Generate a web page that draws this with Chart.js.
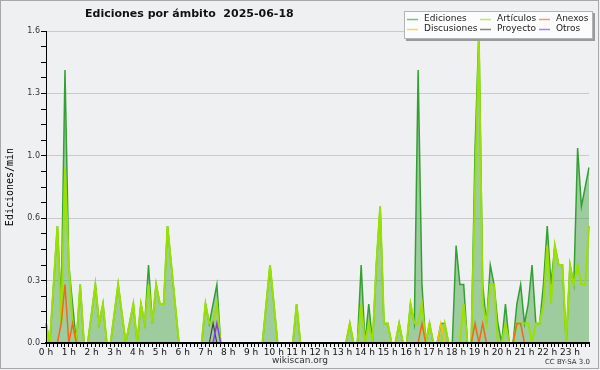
<!DOCTYPE html>
<html lang="es">
<head>
<meta charset="UTF-8">
<title>Ediciones por ámbito</title>
<script src="https://cdn.jsdelivr.net/npm/chart.js"></script>
<style>
  body { margin: 0; background: #fff; }
</style>
</head>
<body>
<canvas id="editsChart" width="600" height="370"></canvas>
<script>
// 10-minute slots, values are edits per minute
const hourLabels = ['0 h', '1 h', '2 h', '3 h', '4 h', '5 h', '6 h', '7 h', '8 h', '9 h', '10 h', '11 h',
  '12 h', '13 h', '14 h', '15 h', '16 h', '17 h', '18 h', '19 h', '20 h', '21 h', '22 h', '23 h'];
const slotsPerHour = 6;

const ediciones = [
  0.1, 0, 0.3, 0.6, 0.2, 1.4, 0.4, 0.2, 0, 0.3, 0, 0,
  0.15, 0.3, 0.1, 0.2, 0, 0, 0.15, 0.3, 0.15, 0, 0.1, 0.2,
  0, 0.2, 0.1, 0.4, 0.1, 0.3, 0.2, 0.2, 0.6, 0.4, 0.2, 0,
  0, 0, 0, 0, 0, 0, 0.2, 0.1, 0.2, 0.3, 0, 0,
  0, 0, 0, 0, 0, 0, 0, 0, 0, 0, 0.2, 0.4,
  0.2, 0, 0, 0, 0, 0, 0.2, 0, 0, 0, 0, 0,
  0, 0, 0, 0, 0, 0, 0, 0, 0.1, 0, 0, 0.4,
  0, 0.2, 0, 0.4, 0.7, 0.1, 0.1, 0, 0, 0.1, 0, 0,
  0.2, 0.1, 1.4, 0.3, 0, 0.1, 0, 0, 0.1, 0.1, 0, 0,
  0.5, 0.3, 0.3, 0, 0, 1.0, 1.6, 0.3, 0.1, 0.4, 0.3, 0.1,
  0, 0.2, 0, 0, 0.2, 0.3, 0.1, 0.2, 0.4, 0.1, 0.1, 0.3,
  0.6, 0.3, 0.5, 0.4, 0.4, 0, 0.4, 0.3, 1.0, 0.7, 0.8, 0.9
];
const articulos = [
  0.1, 0, 0.3, 0.6, 0.1, 0.9, 0.4, 0.1, 0, 0.3, 0, 0,
  0.15, 0.3, 0.1, 0.2, 0, 0, 0.15, 0.3, 0.15, 0, 0.1, 0.2,
  0, 0.2, 0.1, 0.3, 0.1, 0.3, 0.2, 0.2, 0.6, 0.4, 0.2, 0,
  0, 0, 0, 0, 0, 0, 0.2, 0.1, 0.1, 0.2, 0, 0,
  0, 0, 0, 0, 0, 0, 0, 0, 0, 0, 0.2, 0.4,
  0.2, 0, 0, 0, 0, 0, 0.2, 0, 0, 0, 0, 0,
  0, 0, 0, 0, 0, 0, 0, 0, 0.1, 0, 0, 0.2,
  0, 0.1, 0, 0.4, 0.7, 0.1, 0.1, 0, 0, 0.1, 0, 0,
  0.2, 0.1, 0.1, 0.2, 0, 0.1, 0, 0, 0, 0.1, 0, 0,
  0, 0, 0.2, 0, 0, 0.8, 1.55, 0.2, 0.1, 0.3, 0.3, 0,
  0, 0.1, 0, 0, 0.1, 0.1, 0.1, 0.1, 0, 0.1, 0.1, 0.2,
  0.5, 0.2, 0.5, 0.4, 0.4, 0, 0.4, 0.3, 0.4, 0.3, 0.3, 0.6
];
const anexos = [
  0, 0, 0, 0, 0.1, 0.3, 0, 0.1, 0, 0, 0, 0,
  0, 0, 0, 0, 0, 0, 0, 0, 0, 0, 0, 0,
  0, 0, 0, 0, 0, 0, 0, 0, 0, 0, 0, 0,
  0, 0, 0, 0, 0, 0, 0, 0, 0, 0, 0, 0,
  0, 0, 0, 0, 0, 0, 0, 0, 0, 0, 0, 0,
  0, 0, 0, 0, 0, 0, 0, 0, 0, 0, 0, 0,
  0, 0, 0, 0, 0, 0, 0, 0, 0, 0, 0, 0,
  0, 0, 0, 0, 0, 0, 0, 0, 0, 0, 0, 0,
  0, 0, 0, 0.1, 0, 0, 0, 0, 0, 0, 0, 0,
  0, 0, 0, 0, 0, 0.1, 0, 0.1, 0, 0, 0, 0,
  0, 0, 0, 0, 0.1, 0.1, 0, 0, 0, 0, 0, 0,
  0, 0, 0, 0, 0, 0, 0, 0, 0, 0, 0, 0
];
const discusiones = [
  0, 0, 0, 0, 0, 0, 0, 0, 0, 0, 0, 0,
  0, 0, 0, 0, 0, 0, 0, 0, 0, 0, 0, 0,
  0, 0, 0, 0, 0, 0, 0, 0, 0, 0, 0, 0,
  0, 0, 0, 0, 0, 0, 0, 0, 0, 0, 0, 0,
  0, 0, 0, 0, 0, 0, 0, 0, 0, 0, 0, 0,
  0, 0, 0, 0, 0, 0, 0, 0, 0, 0, 0, 0,
  0, 0, 0, 0, 0, 0, 0, 0, 0, 0, 0, 0,
  0, 0, 0, 0, 0, 0, 0, 0, 0, 0, 0, 0,
  0, 0, 0, 0, 0, 0, 0, 0, 0.1, 0, 0, 0,
  0, 0, 0, 0, 0, 0, 0, 0, 0, 0, 0, 0,
  0, 0, 0, 0, 0, 0, 0, 0, 0, 0, 0, 0,
  0, 0, 0, 0, 0, 0, 0, 0, 0, 0, 0, 0
];
const proyecto = [
  0, 0, 0, 0, 0, 0, 0, 0, 0, 0, 0, 0,
  0, 0, 0, 0, 0, 0, 0, 0, 0, 0, 0, 0,
  0, 0, 0, 0, 0, 0, 0, 0, 0, 0, 0, 0,
  0, 0, 0, 0, 0, 0, 0, 0, 0.1, 0, 0, 0,
  0, 0, 0, 0, 0, 0, 0, 0, 0, 0, 0, 0,
  0, 0, 0, 0, 0, 0, 0, 0, 0, 0, 0, 0,
  0, 0, 0, 0, 0, 0, 0, 0, 0, 0, 0, 0,
  0, 0, 0, 0, 0, 0, 0, 0, 0, 0, 0, 0,
  0, 0, 0, 0, 0, 0, 0, 0, 0, 0, 0, 0,
  0, 0, 0, 0, 0, 0, 0, 0, 0, 0, 0, 0,
  0, 0, 0, 0, 0, 0, 0, 0, 0, 0, 0, 0,
  0, 0, 0, 0, 0, 0, 0, 0, 0, 0, 0, 0
];
const otros = [
  0, 0, 0, 0, 0, 0, 0, 0, 0, 0, 0, 0,
  0, 0, 0, 0, 0, 0, 0, 0, 0, 0, 0, 0,
  0, 0, 0, 0, 0, 0, 0, 0, 0, 0, 0, 0,
  0, 0, 0, 0, 0, 0, 0, 0, 0, 0.1, 0, 0,
  0, 0, 0, 0, 0, 0, 0, 0, 0, 0, 0, 0,
  0, 0, 0, 0, 0, 0, 0, 0, 0, 0, 0, 0,
  0, 0, 0, 0, 0, 0, 0, 0, 0, 0, 0, 0,
  0, 0, 0, 0, 0, 0, 0, 0, 0, 0, 0, 0,
  0, 0, 0, 0, 0, 0, 0, 0, 0, 0, 0, 0,
  0, 0, 0, 0, 0, 0, 0, 0, 0, 0, 0, 0,
  0, 0, 0, 0, 0, 0, 0, 0, 0, 0, 0, 0,
  0, 0, 0, 0, 0, 0, 0, 0, 0, 0, 0, 0
];

// slot labels 0:00 .. 23:50
const categories = [];
for (let h = 0; h < 24; h++) {
  for (let m = 0; m < 60; m += 10) categories.push(h + ':' + String(m).padStart(2, '0'));
}

const yMax = 1.6;
const yMajor = 0.32;
const isMajor = v => Math.abs(v / yMajor - Math.round(v / yMajor)) < 1e-6;

function line(label, data, color, width, order, extra) {
  return Object.assign({
    label: label,
    data: data,
    borderColor: color,
    borderWidth: width,
    pointRadius: 0,
    tension: 0,
    fill: false,
    order: order
  }, extra || {});
}

const datasets = [
  line('Ediciones', ediciones, '#34a034', 1.5, 6, { fill: 'origin', backgroundColor: 'rgba(60,160,60,0.45)' }),
  line('Artículos', articulos, '#9ae000', 2, 5),
  line('Anexos', anexos, '#f06a18', 1.5, 4),
  line('Discusiones', discusiones, '#f2c400', 1.5, 3),
  line('Proyecto', proyecto, '#444444', 1.2, 2),
  line('Otros', otros, '#8a3cf0', 1.5, 1)
];

// title, legend box, footer and frame
const decorations = {
  id: 'decorations',
  beforeDraw(chart) {
    const c = chart.ctx;
    c.save();
    c.fillStyle = '#eff0f1';
    c.fillRect(0, 0, chart.width, chart.height);
    c.restore();
  },
  afterDraw(chart) {
    const c = chart.ctx;
    c.save();
    c.fillStyle = '#111';
    c.textBaseline = 'middle';
    c.font = 'bold 11px "DejaVu Sans"';
    c.textAlign = 'left';
    c.fillText('Ediciones por ámbito  2025-06-18', 85, 14);

    // legend
    c.fillStyle = '#9a9a9a';
    c.fillRect(406, 13, 189, 28);
    c.fillStyle = '#fcfcfc';
    c.fillRect(404, 11, 189, 28);
    c.strokeStyle = '#b4b4b4';
    c.lineWidth = 1;
    c.strokeRect(404.5, 11.5, 188, 27);
    const colX = [407, 480, 539];
    const rowY = [19, 29];
    c.font = '9px "DejaVu Sans"';
    chart.data.datasets.forEach((ds, k) => {
      const x = colX[k % 3], y = rowY[Math.floor(k / 3)];
      c.globalAlpha = 0.65;
      c.strokeStyle = ds.borderColor;
      c.lineWidth = 1.5;
      c.beginPath();
      c.moveTo(x, y + 0.5);
      c.lineTo(x + 11, y + 0.5);
      c.stroke();
      c.globalAlpha = 1;
      c.fillStyle = '#222';
      c.fillText(ds.label, x + 17, y);
    });

    // footer
    c.fillStyle = '#333';
    c.font = '9px "DejaVu Sans"';
    c.textAlign = 'center';
    c.fillText('wikiscan.org', 300, 361);
    c.font = '7px "DejaVu Sans"';
    c.textAlign = 'right';
    c.fillText('CC BY-SA 3.0', 590, 362);

    c.strokeStyle = '#a8a8a8';
    c.lineWidth = 1;
    c.strokeRect(0.5, 0.5, 598, 368);
    c.restore();
  }
};

new Chart(document.getElementById('editsChart'), {
  type: 'line',
  data: { labels: categories, datasets: datasets },
  plugins: [decorations],
  options: {
    responsive: false,
    animation: false,
    devicePixelRatio: 1,
    layout: { padding: { top: 31, right: 11, left: 0, bottom: 0 } },
    plugins: {
      legend: { display: false },
      title: { display: false },
      tooltip: { enabled: false }
    },
    scales: {
      x: {
        offset: false,
        afterFit: s => { s.height = 27; },
        border: { color: '#000', width: 2, z: 1 },
        grid: { drawOnChartArea: false, tickColor: '#000', tickLength: 4, z: 1 },
        ticks: {
          autoSkip: false,
          maxRotation: 0,
          padding: 0,
          color: '#111',
          font: { family: 'DejaVu Sans', size: 9 },
          callback: (v, i) => (i % slotsPerHour === 0 ? hourLabels[i / slotsPerHour] : '')
        }
      },
      y: {
        min: 0,
        max: yMax,
        afterFit: s => { s.width = 46; },
        border: { color: '#000', width: 1, z: 1 },
        grid: {
          color: ctx => (isMajor(ctx.tick.value) ? '#cacaca' : 'rgba(0,0,0,0)'),
          tickColor: '#000',
          tickLength: 5
        },
        ticks: {
          stepSize: 0.08,
          autoSkip: false,
          padding: 1,
          color: '#333',
          font: { family: 'DejaVu Sans', size: 8 },
          callback: v => (isMajor(v) ? v.toFixed(1) : '')
        },
        title: {
          display: true,
          text: 'Ediciones/min',
          color: '#000',
          font: { family: 'DejaVu Sans Mono', size: 10 }
        }
      }
    }
  }
});
</script>
</body>
</html>
